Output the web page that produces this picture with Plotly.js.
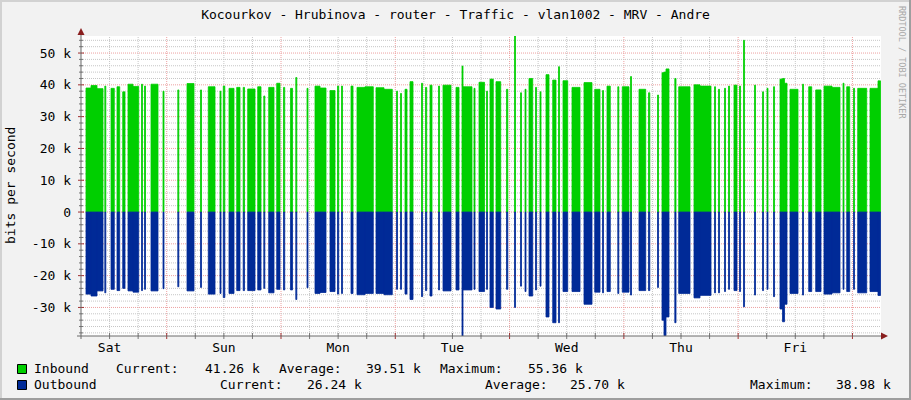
<!DOCTYPE html>
<html><head><meta charset="utf-8">
<script src="https://cdn.plot.ly/plotly-3.0.1.min.js"></script>
<style>html,body{margin:0;padding:0;background:#f2f2f2;}#chart{width:911px;height:400px;}</style>
</head><body><div id="chart"></div>
<script>
// Time axis: hours since Saturday 00:00 (one week window Sat 06:00 -> next Sat 06:00)
const startH = [7.05, 8.10, 9.36, 11.00, 12.30, 13.56, 14.76, 15.87, 16.92, 18.71, 19.34, 20.70, 23.22, 26.33, 28.26, 31.10, 32.73, 35.19, 35.88, 37.08, 38.70, 40.06, 41.01, 43.11, 44.39, 45.42, 47.10, 48.53, 50.00, 51.11, 53.46, 55.14, 56.19, 58.29, 59.87, 60.71, 62.70, 63.96, 65.64, 67.95, 69.63, 72.26, 73.10, 74.04, 75.09, 77.51, 78.35, 79.29, 81.08, 82.02, 84.75, 86.01, 86.22, 88.53, 89.58, 91.16, 91.89, 93.15, 95.36, 97.04, 98.30, 99.24, 100.08, 101.45, 102.39, 103.65, 105.06, 106.28, 107.22, 109.11, 111.63, 113.88, 115.52, 116.46, 118.73, 119.67, 121.40, 123.18, 125.18, 127.07, 128.01, 128.43, 128.85, 130.70, 131.52, 134.73, 135.99, 139.04, 139.88, 141.14, 141.98, 143.13, 144.29, 145.13, 147.44, 149.12, 150.06, 151.43, 152.79, 153.32, 153.74, 154.89, 157.52, 158.82, 160.29, 162.03, 163.71, 166.02, 166.80, 168.23, 169.11, 171.69, 173.37];
const endH = [8.10, 9.36, 10.62, 11.21, 12.99, 14.13, 15.24, 16.92, 18.12, 18.92, 19.55, 22.17, 23.43, 26.54, 29.73, 31.31, 34.14, 35.40, 36.20, 38.13, 39.39, 40.34, 42.54, 43.80, 44.60, 46.53, 47.79, 48.78, 50.42, 51.32, 53.67, 56.19, 57.45, 59.34, 60.12, 60.92, 63.12, 65.64, 67.38, 69.63, 71.37, 72.47, 73.31, 74.46, 75.72, 77.72, 78.60, 79.71, 81.29, 83.70, 85.38, 86.22, 88.11, 88.74, 90.74, 91.37, 92.58, 94.14, 95.63, 97.25, 98.51, 99.45, 100.86, 101.66, 102.60, 104.28, 105.75, 106.49, 108.21, 110.79, 113.31, 114.99, 115.73, 117.15, 118.94, 121.08, 121.61, 124.59, 125.45, 127.28, 128.43, 128.85, 129.48, 130.95, 133.89, 135.99, 138.30, 139.25, 140.09, 141.35, 142.19, 143.76, 144.50, 145.34, 147.65, 149.33, 150.27, 151.64, 153.32, 153.74, 154.26, 156.57, 157.73, 159.45, 161.40, 163.71, 165.39, 166.23, 167.43, 168.44, 171.00, 173.37, 173.90];
const inboundK = [39.0, 39.8, 38.8, 39.6, 38.9, 39.4, 37.8, 40.2, 39.5, 40.2, 39.6, 40.2, 38.0, 38.4, 40.4, 38.4, 39.4, 38.0, 39.6, 38.9, 39.2, 39.2, 38.7, 39.4, 36.5, 39.2, 40.5, 39.2, 38.9, 42.3, 38.9, 39.6, 39.0, 38.2, 39.6, 39.6, 39.6, 39.2, 39.4, 39.1, 38.6, 38.0, 37.3, 38.6, 41.0, 40.5, 39.2, 39.9, 39.6, 39.9, 39.2, 45.9, 39.4, 38.9, 40.8, 38.0, 41.8, 41.0, 38.6, 55.36, 37.5, 38.6, 42.0, 39.2, 37.8, 43.2, 41.5, 45.7, 41.3, 39.2, 40.7, 38.6, 38.2, 39.6, 39.4, 39.4, 42.6, 38.6, 37.5, 36.8, 43.8, 44.0, 45.0, 42.0, 39.4, 40.0, 39.6, 39.4, 38.6, 38.9, 39.6, 39.9, 39.6, 54.0, 39.9, 37.8, 38.9, 39.4, 41.8, 42.0, 40.5, 38.6, 40.2, 39.4, 38.4, 39.6, 39.2, 40.5, 39.4, 38.9, 38.9, 38.9, 41.26];
const outboundK = [-25.8, -26.4, -24.8, -25.4, -24.3, -24.7, -24.0, -24.8, -25.2, -24.7, -24.3, -24.8, -24.1, -23.5, -24.8, -23.7, -25.8, -25.6, -26.9, -25.6, -24.7, -24.7, -24.7, -24.5, -24.0, -25.4, -24.3, -24.5, -24.5, -27.5, -23.8, -25.6, -25.3, -25.0, -25.8, -25.6, -25.6, -26.0, -25.6, -25.6, -26.0, -24.3, -24.3, -25.8, -27.5, -26.6, -24.7, -26.4, -24.5, -24.8, -24.5, -38.98, -24.5, -24.3, -25.0, -24.3, -30.0, -30.5, -24.3, -30.0, -23.3, -25.0, -26.4, -24.5, -23.3, -33.0, -34.8, -34.8, -25.0, -25.0, -29.0, -25.2, -25.4, -25.0, -25.6, -25.2, -26.1, -24.7, -24.7, -23.7, -34.0, -38.9, -33.0, -34.8, -25.6, -27.0, -26.2, -25.4, -25.4, -25.0, -24.3, -24.7, -25.0, -29.8, -26.1, -24.7, -24.3, -26.6, -30.5, -34.5, -29.0, -25.6, -26.1, -25.0, -25.0, -25.8, -25.4, -24.3, -25.0, -24.3, -25.4, -25.0, -26.24];
const dayLabels = ["Sat", "Sun", "Mon", "Tue", "Wed", "Thu", "Fri"];
const dayNoonH = [12, 36, 60, 84, 108, 132, 156];
const yTickVals = [-30000, -20000, -10000, 0, 10000, 20000, 30000, 40000, 50000];
const yTickText = ["-30 k", "-20 k", "-10 k", "0", "10 k", "20 k", "30 k", "40 k", "50 k"];
const inboundStats = ["41.26 k", "39.51 k", "55.36 k"];
const outboundStats = ["26.24 k", "25.70 k", "38.98 k"];
const xRange = [6, 174];
const yRange = [-38980, 55360];

const FONT = "DejaVu Sans Mono";
const L = 81, T = 36, PW = 800, PH = 300;
const px2x = p => (p - L) / PW;
const py2y = p => (T + PH - p) / PH;

const mid = startH.map((s, i) => (s + endH[i]) / 2);
const wid = startH.map((s, i) => endH[i] - s);

const traces = [
  {type: 'bar', x: mid, width: wid, y: inboundK.map(v => v * 1000), name: 'Inbound',
   marker: {color: '#00CF00', line: {color: '#00CF00', width: 0.8}}, hoverinfo: 'skip'},
  {type: 'bar', x: mid, width: wid, y: outboundK.map(v => v * 1000), name: 'Outbound',
   marker: {color: '#002A97', line: {color: '#002A97', width: 0.8}}, hoverinfo: 'skip'}
];

const shapes = [];
const GRAY = '#c6c6c6', RED = '#eda0a0';
for (let h = xRange[0] + 6; h < xRange[1]; h += 6) {
  shapes.push({type: 'line', xref: 'x', yref: 'paper', x0: h, x1: h, y0: 0, y1: 1, layer: 'below',
    line: {color: h % 24 === 0 ? RED : GRAY, width: 1, dash: '1px,1px'}});
  shapes.push({type: 'line', xref: 'x', yref: 'paper', x0: h, x1: h, y0: py2y(339), y1: py2y(333), layer: 'above',
    line: {color: h % 24 === 0 ? '#a03030' : '#777', width: 1}});
}
for (let v = -38000; v <= 54000; v += 2000) {
  const major = v % 10000 === 0;
  shapes.push({type: 'line', xref: 'paper', yref: 'y', x0: 0, x1: 1, y0: v, y1: v, layer: 'below',
    line: {color: major ? RED : GRAY, width: 1, dash: '1px,1px'}});
  shapes.push({type: 'line', xref: 'paper', yref: 'y', x0: px2x(major ? 78 : 79), x1: px2x(major ? 84 : 83), y0: v, y1: v, layer: 'above',
    line: {color: major ? '#a03030' : '#777', width: 1}});
}
shapes.push({type: 'line', xref: 'paper', yref: 'paper', x0: px2x(77), x1: px2x(884), y0: 0, y1: 0, layer: 'above', line: {color: '#6a6a6a', width: 1}});
shapes.push({type: 'line', xref: 'paper', yref: 'paper', x0: 0, x1: 0, y0: py2y(339), y1: py2y(32), layer: 'above', line: {color: '#6a6a6a', width: 1}});
shapes.push({type: 'path', xref: 'paper', yref: 'paper', layer: 'above',
  path: `M ${px2x(81)},${py2y(28)} L ${px2x(77.5)},${py2y(35)} L ${px2x(84.5)},${py2y(35)} Z`,
  fillcolor: '#8a1f1f', line: {width: 0}});
shapes.push({type: 'path', xref: 'paper', yref: 'paper', layer: 'above',
  path: `M ${px2x(888)},${py2y(336)} L ${px2x(881)},${py2y(332.5)} L ${px2x(881)},${py2y(339.5)} Z`,
  fillcolor: '#8a1f1f', line: {width: 0}});
shapes.push({type: 'rect', xref: 'paper', yref: 'paper', x0: px2x(0), x1: px2x(911), y0: py2y(2), y1: py2y(0), fillcolor: '#d2d2d2', line: {width: 0}, layer: 'above'});
shapes.push({type: 'rect', xref: 'paper', yref: 'paper', x0: px2x(0), x1: px2x(2), y0: py2y(400), y1: py2y(0), fillcolor: '#d2d2d2', line: {width: 0}, layer: 'above'});
shapes.push({type: 'rect', xref: 'paper', yref: 'paper', x0: px2x(0), x1: px2x(911), y0: py2y(400), y1: py2y(398), fillcolor: '#9e9e9e', line: {width: 0}, layer: 'above'});
shapes.push({type: 'rect', xref: 'paper', yref: 'paper', x0: px2x(909), x1: px2x(911), y0: py2y(400), y1: py2y(0), fillcolor: '#9e9e9e', line: {width: 0}, layer: 'above'});
shapes.push({type: 'rect', xref: 'paper', yref: 'paper', x0: px2x(17.5), x1: px2x(26.5), y0: py2y(373.5), y1: py2y(364.5), fillcolor: '#00CF00', line: {color: '#000', width: 1}, layer: 'above'});
shapes.push({type: 'rect', xref: 'paper', yref: 'paper', x0: px2x(17.5), x1: px2x(26.5), y0: py2y(389.5), y1: py2y(380.5), fillcolor: '#002A97', line: {color: '#000', width: 1}, layer: 'above'});

const annotations = [];
function txt(text, px, py, extra) {
  annotations.push(Object.assign({text: text, xref: 'paper', yref: 'paper', x: px2x(px), y: py2y(py),
    xanchor: 'left', yanchor: 'middle', showarrow: false, borderpad: 0,
    font: {family: FONT, size: 13, color: '#000'}}, extra || {}));
}
const row1 = 368.5, row2 = 384;
txt('Inbound', 33, row1);
txt('Current:', 115, row1);
txt(inboundStats[0], 203.5, row1);
txt('Average:', 278, row1);
txt(inboundStats[1], 364.5, row1);
txt('Maximum:', 439, row1);
txt(inboundStats[2], 527, row1);
txt('Outbound', 33, row2);
txt('Current:', 218.5, row2);
txt(outboundStats[0], 306, row2);
txt('Average:', 483.5, row2);
txt(outboundStats[1], 569, row2);
txt('Maximum:', 748.5, row2);
txt(outboundStats[2], 835, row2);
txt('bits per second', 10, 186, {xanchor: 'center', textangle: -90});
txt('RRDTOOL / TOBI OETIKER', 902, 62, {xanchor: 'center', textangle: 90, font: {family: FONT, size: 8.5, color: '#a8a8a8'}});

const layout = {
  width: 911, height: 400,
  margin: {l: L, r: 911 - L - PW, t: T, b: 400 - T - PH, pad: 0},
  paper_bgcolor: '#f2f2f2', plot_bgcolor: '#ffffff',
  showlegend: false, barmode: 'overlay', bargap: 0,
  font: {family: FONT, size: 13, color: '#000'},
  title: {text: 'Kocourkov - Hrubinova - router - Traffic - vlan1002 - MRV - Andre',
    xref: 'container', x: 0.5, xanchor: 'center', yref: 'container', y: 1 - 14.5 / 400, yanchor: 'middle',
    font: {family: FONT, size: 13, color: '#000'}},
  xaxis: {range: xRange, tickmode: 'array', tickvals: dayNoonH, ticktext: dayLabels, showgrid: false,
    zeroline: false, showline: false, ticks: '', ticklabelstandoff: 2, fixedrange: true,
    tickfont: {family: FONT, size: 13, color: '#000'}},
  yaxis: {range: yRange, tickmode: 'array', tickvals: yTickVals, ticktext: yTickText, showgrid: false,
    zeroline: false, showline: false, ticks: '', ticklabelstandoff: 9, fixedrange: true,
    tickfont: {family: FONT, size: 13, color: '#000'}},
  shapes: shapes, annotations: annotations
};
Plotly.newPlot('chart', traces, layout, {staticPlot: true, displayModeBar: false});
</script></body></html>
